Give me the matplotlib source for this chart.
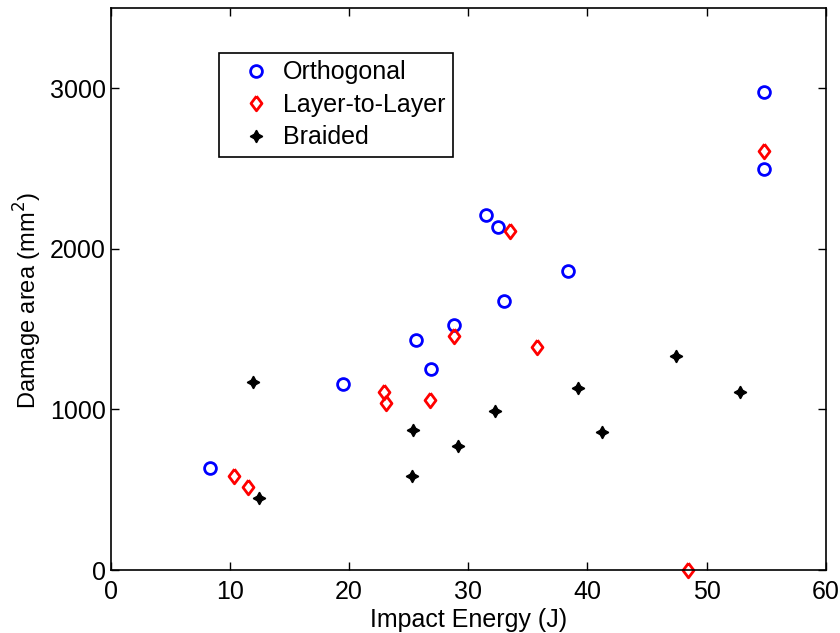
import matplotlib
matplotlib.use("Agg")
import matplotlib.pyplot as plt

plt.rcParams['font.family'] = ['Liberation Sans', 'DejaVu Sans']

# Orthogonal
orth_x = [8.3, 19.5, 25.6, 26.9, 28.8, 31.5, 32.5, 33.0, 38.4, 54.8, 54.8]
orth_y = [637, 1160, 1430, 1250, 1527, 2208, 2133, 1677, 1864, 2979, 2500]

# Layer-to-Layer
l2l_x = [10.3, 11.5, 22.9, 23.1, 26.8, 28.8, 33.5, 35.8, 48.4, 54.8]
l2l_y = [585, 519, 1108, 1040, 1058, 1460, 2110, 1387, 0, 2610]

# Braided
braid_x = [11.9, 12.4, 25.3, 25.4, 29.1, 32.2, 39.2, 41.2, 47.4, 52.8]
braid_y = [1173, 448, 585, 870, 771, 989, 1131, 861, 1333, 1108]

# diamond a bit wider than matplotlib's thin one
diamond = [(0, 1), (0.75, 0), (0, -1), (-0.75, 0), (0, 1)]

fig = plt.figure(figsize=(8.4, 6.33), dpi=100)
ax = fig.add_axes([0.132, 0.0995, 0.851, 0.888])

ax.plot(orth_x, orth_y, 'o', color='blue', mfc='none', mew=2, ms=8.5,
        label='Orthogonal', clip_on=False)
ax.plot(l2l_x, l2l_y, marker=diamond, ls='none', color='red', mfc='none',
        mew=2, ms=10.5, label='Layer-to-Layer', clip_on=False)
ax.plot(braid_x, braid_y, marker=(4, 1, 0), ls='none', color='black',
        ms=9, mew=1, label='Braided', clip_on=False)

ax.set_xlim(0, 60)
ax.set_ylim(0, 3500)
ax.set_xticks([0, 10, 20, 30, 40, 50, 60])
ax.set_yticks([0, 1000, 2000, 3000])
ax.tick_params(labelsize=18, direction='in', length=6, width=1,
               top=True, right=True)
ax.tick_params(axis='x', pad=7)
ax.set_xlabel('Impact Energy (J)', fontsize=18, labelpad=3)
ax.set_ylabel('Damage area (mm$^2$)', fontsize=17)
ax.yaxis.set_label_coords(-0.093, 0.48)
for s in ax.spines.values():
    s.set_linewidth(1.2)

leg = ax.legend(loc='upper left', bbox_to_anchor=(0.151, 0.920), fontsize=18,
                fancybox=False, edgecolor='black', framealpha=1,
                borderaxespad=0, borderpad=0.3, labelspacing=0.34,
                handlelength=2.36, handletextpad=-0.1)
leg.get_frame().set_linewidth(1.2)

fig.savefig('out.png', dpi=100)
